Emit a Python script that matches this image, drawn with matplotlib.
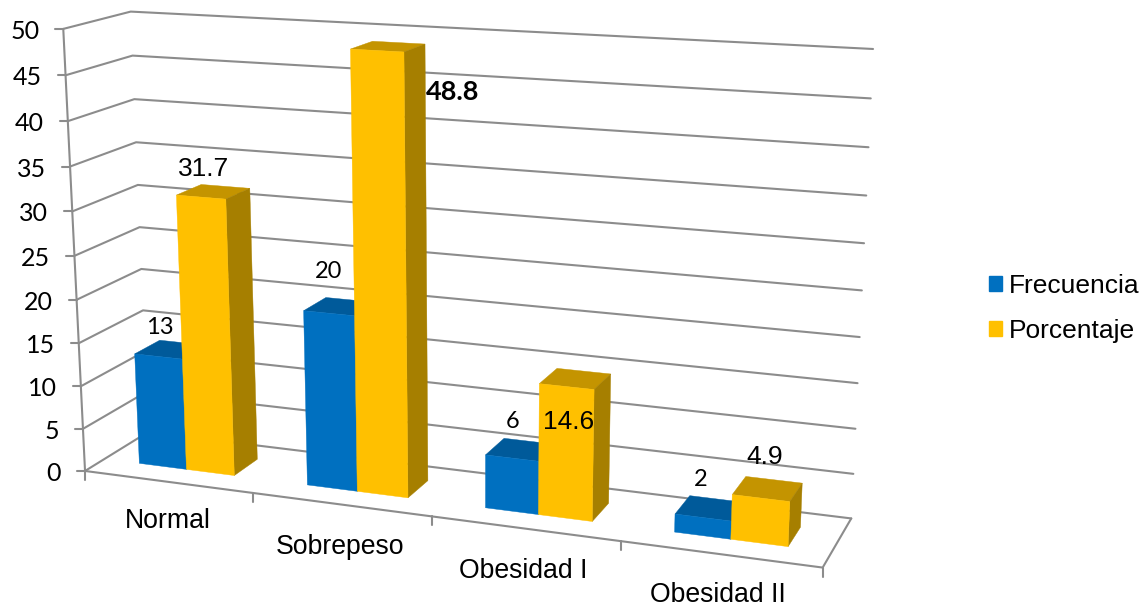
# -*- coding: utf-8 -*-
import numpy as np
import matplotlib
matplotlib.use('Agg')
import matplotlib.pyplot as plt
from matplotlib.patches import Polygon, Patch

categorias = ['Normal', 'Sobrepeso', 'Obesidad I', 'Obesidad II']
frecuencia = [13, 20, 6, 2]
porcentaje = [31.7, 48.8, 14.6, 4.9]
ticks_y = [0, 5, 10, 15, 20, 25, 30, 35, 40, 45, 50]

# pixel position of the plot box corners: (category, depth, value) -> (x, y)
caja_3d = [(0, 0, 0), (0, 0, 50), (0, 1, 0), (0, 1, 50), (4, 1, 0), (4, 1, 50), (4, 0, 0)]
caja_px = [(85, 470), (63, 29.5), (148, 433), (131, 11), (851, 518), (873, 49), (823, 568)]

# 3D bars layout, fractions of a category cell
hueco = 0.214
ancho = 0.286
fondo_a, fondo_b = 0.3, 0.7

GRIS = '#8c8c8c'
AZUL = ('#0070c0', '#005a9a', '#00467a')
AMARILLO = ('#ffc000', '#c49400', '#a67f00')

# category label offset from the middle of each cell on the front edge
categorias_off = [(0, 39), (-0.5, 43), (-2, 42), (-2, 41)]

# where the value labels sit, and their font
etiquetas_pos = [(160, 328), (204, 169), (329, 272), (453, 92), (513, 421), (569, 422), (701, 479), (765, 457)]
etiquetas_fmt = [('Lato', 17, 'normal'), ('Liberation Sans', 19, 'normal'),
                 ('Lato', 17, 'normal'), ('Lato', 19.5, 'bold'),
                 ('Lato', 17, 'normal'), ('Liberation Sans', 19, 'normal'),
                 ('Lato', 17, 'normal'), ('Liberation Sans', 19, 'normal')]


def calcula_camara(puntos, pixeles):
    filas = []
    for (u, d, v), (x, y) in zip(puntos, pixeles):
        p = [u / 4, d, v / 50, 1]
        filas.append(p + [0, 0, 0, 0] + [-x * c for c in p])
        filas.append([0, 0, 0, 0] + p + [-y * c for c in p])
    return np.linalg.svd(np.array(filas))[2][-1].reshape(3, 4)


camara = calcula_camara(caja_3d, caja_px)


def proyecta(u, d, v):
    q = camara @ np.array([u / 4, d, v / 50, 1])
    return q[0] / q[2], q[1] / q[2]


def linea(ax, puntos, lw=1.5):
    xs, ys = zip(*puntos)
    ax.plot(xs, ys, color=GRIS, lw=lw, solid_capstyle='round', zorder=1)


def barra(ax, u0, u1, valor, colores):
    frente, arriba, lado = colores
    caras = [
        (arriba, [(u0, fondo_a, valor), (u1, fondo_a, valor), (u1, fondo_b, valor), (u0, fondo_b, valor)]),
        (lado, [(u1, fondo_a, 0), (u1, fondo_b, 0), (u1, fondo_b, valor), (u1, fondo_a, valor)]),
        (frente, [(u0, fondo_a, 0), (u1, fondo_a, 0), (u1, fondo_a, valor), (u0, fondo_a, valor)]),
    ]
    for color, cara in caras:
        ax.add_patch(Polygon([proyecta(*p) for p in cara], closed=True, facecolor=color,
                             edgecolor=color, lw=0.3, zorder=2))


fig = plt.figure(figsize=(11.47, 6.08), dpi=100)
ax = fig.add_axes([0, 0, 1, 1])
ax.set_xlim(0, 1147)
ax.set_ylim(608, 0)
ax.axis('off')

# walls: left side then back side of every gridline
for t in ticks_y:
    a = proyecta(0, 0, t)
    b = proyecta(0, 1, t)
    c = proyecta(4, 1, t)
    linea(ax, [a, b, c])
    linea(ax, [(a[0] - 8, a[1]), a])
    ax.text(a[0] - 24, a[1] + 2.5, str(t), ha='right', va='center', family='Lato', fontsize=18, color='black')

# axes and floor
linea(ax, [proyecta(0, 0, 0), proyecta(0, 0, 50)])
linea(ax, [proyecta(0, 0, 0), proyecta(4, 0, 0), proyecta(4, 1, 0)])
for i in range(5):
    p = proyecta(i, 0, 0)
    linea(ax, [p, (p[0], p[1] + 9)])

for i, nombre in enumerate(categorias):
    p = proyecta(i + 0.5, 0, 0)
    dx, dy = categorias_off[i]
    ax.text(p[0] + dx, p[1] + dy, nombre, ha='center', va='center', family='Liberation Sans', fontsize=19.2, color='black')
    barra(ax, i + hueco, i + hueco + ancho, frecuencia[i], AZUL)
    barra(ax, i + hueco + ancho, i + hueco + 2 * ancho, porcentaje[i], AMARILLO)

textos = [str(v) for par in zip(frecuencia, porcentaje) for v in par]
for s, (x, y), (fuente, size, peso) in zip(textos, etiquetas_pos, etiquetas_fmt):
    ax.text(x, y, s, ha='center', va='center', family=fuente, fontsize=size, fontweight=peso, color='black', zorder=5)

leyenda = ax.legend(handles=[Patch(color=AZUL[0], label='Frecuencia'), Patch(color=AMARILLO[0], label='Porcentaje')],
                    loc='upper left', bbox_to_anchor=(989, 274), bbox_transform=ax.transData,
                    frameon=False, handlelength=0.5, handleheight=0.5, handletextpad=0.26,
                    labelspacing=0.8, borderpad=0, borderaxespad=0,
                    prop={'family': 'Liberation Sans', 'size': 19})

fig.savefig('out.png', dpi=100)
